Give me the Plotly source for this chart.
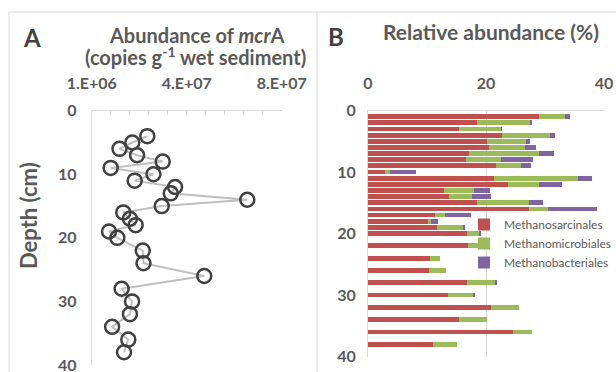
import plotly.graph_objects as go

W, H = 616, 372

# ---------------- data ----------------
# Panel A: mcrA abundance (copies g-1 wet sediment) vs depth (cm)
depth_a = [4, 5, 6, 7, 8, 9, 10, 11, 12, 13, 14, 15, 16, 17, 18, 19, 20,
           22, 24, 26, 28, 30, 32, 34, 36, 38]
mcra = [2.44e7, 1.81e7, 1.27e7, 2.01e7, 3.09e7, 9.0e6, 2.70e7, 1.91e7, 3.61e7,
        3.43e7, 6.65e7, 3.05e7, 1.43e7, 1.71e7, 1.95e7, 8.3e6, 1.18e7,
        2.25e7, 2.28e7, 4.84e7, 1.36e7, 1.80e7, 1.71e7, 9.6e6, 1.64e7, 1.46e7]
x_a_ticks = [1e6, 4.1e7, 8.1e7]
x_a_labels = ["1.E+06", "4.E+07", "8.E+07"]

# Panel B: relative abundance (%) vs depth (cm)
depth_b = list(range(1, 21)) + [22, 24, 26, 28, 30, 32, 34, 36, 38]
sarcinales = [29.0, 18.5, 15.5, 22.65, 20.2, 20.45, 17.1, 16.55, 21.75, 2.9,
              21.3, 23.8, 12.8, 13.8, 18.5, 27.35, 11.3, 10.2, 11.7, 16.7,
              17.0, 10.45, 10.3, 16.85, 13.5, 20.8, 15.5, 24.6, 10.95]
microbiales = [4.35, 9.0, 7.1, 8.2, 6.6, 6.2, 11.9, 6.05, 4.25, 0.75,
               14.35, 5.2, 5.15, 3.9, 8.75, 3.15, 1.75, 0.5, 4.45, 2.2,
               2.5, 1.75, 3.0, 4.8, 4.4, 4.8, 4.6, 3.2, 4.1]
bacteriales = [0.9, 0.2, 0.1, 0.8, 0.7, 1.9, 2.5, 5.3, 1.6, 4.45,
               2.3, 3.95, 2.75, 3.2, 2.4, 8.25, 4.45, 1.2, 0.15, 0.15,
               0, 0, 0, 0.1, 0.1, 0, 0, 0, 0]
series_names = ["Methanosarcinales", "Methanomicrobiales", "Methanobacteriales"]
depth_ticks = [0, 10, 20, 30, 40]
x_b_ticks = [0, 20, 40]

# ---------------- style ----------------
FONT = "Lato"
GRAY = "#595959"
DARK = "#404040"
LINE = "#D9D9D9"
colors = ["#C0504D", "#9BBB59", "#8064A2"]


def px(x):
    return x / W


def py(y):
    return 1 - y / H


fig = go.Figure()

fig.add_trace(go.Scatter(
    x=mcra, y=depth_a, mode="lines+markers", xaxis="x", yaxis="y",
    line=dict(color="#BFBFBF", width=2),
    marker=dict(symbol="circle-open", size=14, color=DARK, line=dict(width=2.5)),
    cliponaxis=False, showlegend=False))

for name, vals, col in zip(series_names, [sarcinales, microbiales, bacteriales], colors):
    fig.add_trace(go.Bar(
        x=vals, y=depth_b, orientation="h", name=name, xaxis="x2", yaxis="y2",
        width=0.78, marker=dict(color=col, line=dict(width=0))))

tickfont = dict(family=FONT, size=16, color=GRAY, weight="bold")

fig.update_layout(
    width=W, height=H, margin=dict(l=0, r=0, t=0, b=0, autoexpand=False),
    paper_bgcolor="white", plot_bgcolor="white",
    barmode="stack",
    font=dict(family=FONT, color=GRAY),
    xaxis=dict(domain=[px(91.7), px(281.7)], range=[1e6, 8.1e7], side="top",
               anchor="y", tickvals=x_a_ticks, ticktext=x_a_labels,
               showgrid=False, zeroline=False, showline=True, linecolor=LINE,
               ticks="inside", ticklen=4, tickcolor=LINE, automargin=False,
               minor=dict(tick0=1e6, dtick=8e6, ticks="inside", ticklen=4,
                          tickcolor=LINE, showgrid=False),
               tickfont=tickfont, ticklabelstandoff=14, ticklabeloverflow="allow"),
    yaxis=dict(domain=[py(365), py(110.7)], range=[40, 0], anchor="x",
               tickvals=depth_ticks, showgrid=False, zeroline=False,
               showline=True, linecolor=LINE, ticks="", automargin=False,
               tickfont=tickfont, ticklabelstandoff=11, ticklabeloverflow="allow"),
    xaxis2=dict(domain=[px(368), px(604)], range=[0, 40], side="top",
                anchor="y2", tickvals=x_b_ticks, showgrid=True,
                gridcolor=LINE, zeroline=False, showline=True, linecolor=LINE,
                ticks="", tickfont=tickfont, ticklabelstandoff=14,
                automargin=False, ticklabeloverflow="allow"),
    yaxis2=dict(domain=[py(356.5), py(110.5)], range=[40, 0], anchor="x2",
                tickvals=depth_ticks, showgrid=False, zeroline=False,
                showline=True, linecolor=LINE, ticks="", automargin=False,
                tickfont=tickfont, ticklabelstandoff=8, ticklabeloverflow="allow"),
    legend=dict(x=px(464), y=py(210), xanchor="left", yanchor="top",
                traceorder="normal", bgcolor="rgba(0,0,0,0)",
                font=dict(family=FONT, size=12, color=GRAY)),
)

ann = [
    dict(x=px(32), y=py(37), text="<b>A</b>", size=24, color=DARK),
    dict(x=px(336), y=py(36), text="<b>B</b>", size=24, color=DARK),
    dict(x=px(196), y=py(35), text="<b>Abundance of <i>mcr</i>A</b>", size=20, color=GRAY),
    dict(x=px(195), y=py(56), text="<b>(copies g<sup>-1</sup> wet sediment)</b>", size=20, color=GRAY),
    dict(x=px(491), y=py(31), text="<b>Relative abundance (%)</b>", size=21, color=GRAY),
]
for a in ann:
    fig.add_annotation(x=a["x"], y=a["y"], xref="paper", yref="paper",
                       text=a["text"], showarrow=False, xanchor="center",
                       yanchor="middle",
                       font=dict(family=FONT, size=a["size"], color=a["color"]))

fig.add_annotation(x=px(28), y=py(216), xref="paper", yref="paper",
                   text="<b>Depth (cm)</b>", showarrow=False, textangle=-90,
                   xanchor="center", yanchor="middle",
                   font=dict(family=FONT, size=22, color=GRAY))

# chart-area borders
for x0, y0, x1, y1 in [(9, 12, 616, 12), (9, 12, 9, 372), (317, 12, 317, 372)]:
    fig.add_shape(type="line", xref="paper", yref="paper",
                  x0=px(x0), y0=py(y0), x1=px(x1), y1=py(y1),
                  line=dict(color=LINE, width=1))

# remove the browser's default 8px body margin so the figure sits at (0, 0)
fig.write_html("out.html", config={"displayModeBar": False},
               post_script="document.body.style.margin='0';document.body.style.overflow='hidden';")
